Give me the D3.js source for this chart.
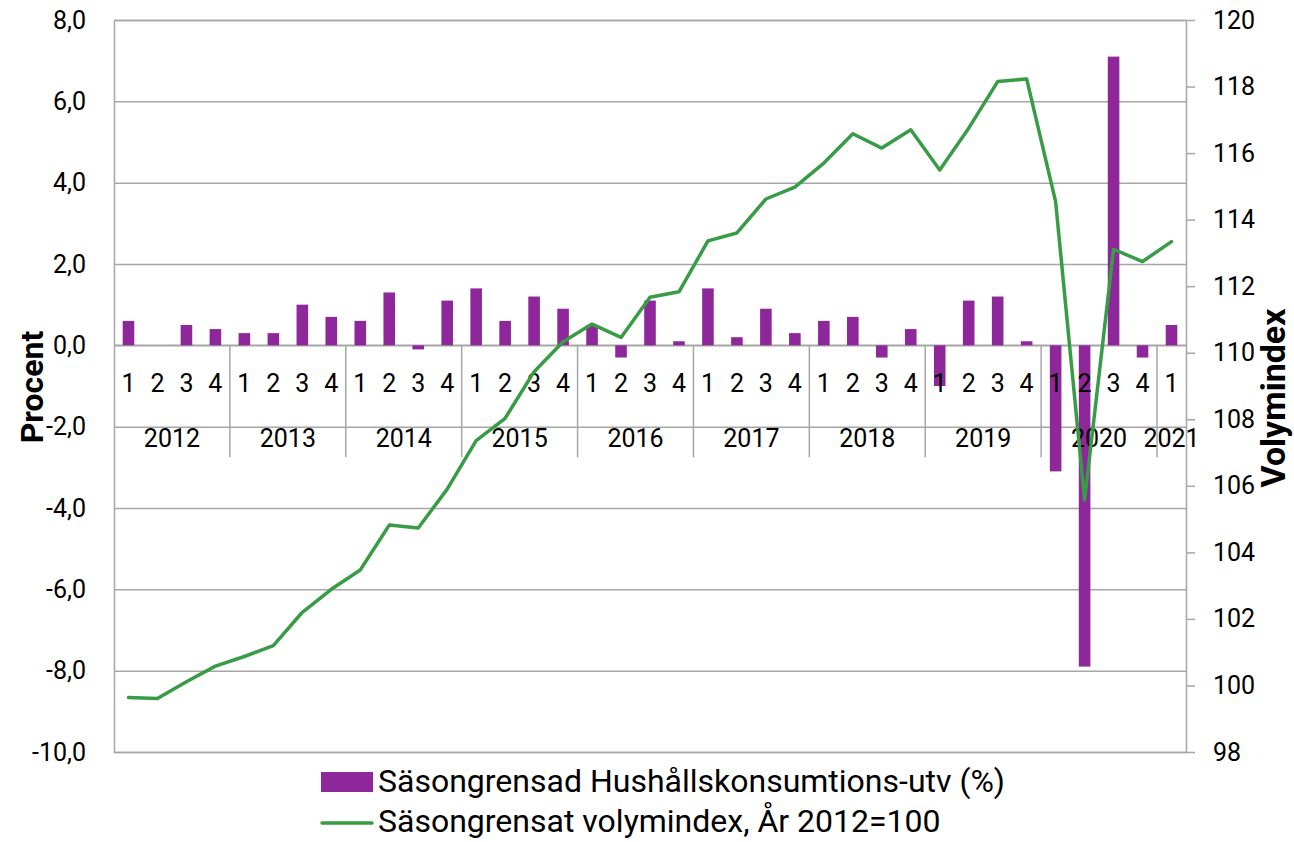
<!DOCTYPE html>
<html>
<head>
<meta charset="utf-8">
<script src="https://cdn.jsdelivr.net/npm/d3@7"></script>
<style>
  body { margin: 0; background: #fff; font-family: Roboto, "Noto Sans", sans-serif; }
  .tick text { font-size: 25px; fill: #000; font-family: Roboto, sans-serif; }
  .cat { font-size: 25px; fill: #000; }
  .axis-title { font-weight: bold; fill: #000; }
  .legend text { font-size: 32px; fill: #000; }
</style>
</head>
<body>
<div id="chart"></div>
<script>
// 1: DATA
const categories = [
  "2012:1", "2012:2", "2012:3", "2012:4",
  "2013:1", "2013:2", "2013:3", "2013:4",
  "2014:1", "2014:2", "2014:3", "2014:4",
  "2015:1", "2015:2", "2015:3", "2015:4",
  "2016:1", "2016:2", "2016:3", "2016:4",
  "2017:1", "2017:2", "2017:3", "2017:4",
  "2018:1", "2018:2", "2018:3", "2018:4",
  "2019:1", "2019:2", "2019:3", "2019:4",
  "2020:1", "2020:2", "2020:3", "2020:4",
  "2021:1"
];

// Säsongrensad hushållskonsumtions-utveckling (%)
const growth = [
  0.6, 0.0, 0.5, 0.4,
  0.3, 0.3, 1.0, 0.7,
  0.6, 1.3, -0.1, 1.1,
  1.4, 0.6, 1.2, 0.9,
  0.5, -0.3, 1.1, 0.1,
  1.4, 0.2, 0.9, 0.3,
  0.6, 0.7, -0.3, 0.4,
  -1.0, 1.1, 1.2, 0.1,
  -3.1, -7.9, 7.1, -0.3,
  0.5
];

// Säsongrensat volymindex, År 2012=100
const volumeIndex = [
  99.64, 99.61, 100.11, 100.58,
  100.87, 101.2, 102.2, 102.89,
  103.47, 104.82, 104.73, 105.9,
  107.36, 108.03, 109.43, 110.33,
  110.86, 110.46, 111.67, 111.83,
  113.36, 113.6, 114.62, 114.98,
  115.7, 116.58, 116.15, 116.7,
  115.49, 116.75, 118.15, 118.23,
  114.54, 105.57, 113.11, 112.74,
  113.34
];

const leftTicks = [-10, -8, -6, -4, -2, 0, 2, 4, 6, 8];
const rightTicks = [98, 100, 102, 104, 106, 108, 110, 112, 114, 116, 118, 120];
const legendLabels = [
  "Säsongrensad Hushållskonsumtions-utv (%)",
  "Säsongrensat volymindex, År 2012=100"
];

const barColor = "#8e289a";
const lineColor = "#389c46";
const gridColor = "#a6a6a6";

// 2: LAYOUT
const margin = { top: 20, right: 108, bottom: 90, left: 114 };
const width = 1072;
const height = 732;

const svg = d3.select("#chart")
  .append("svg")
  .attr("width", width + margin.left + margin.right)
  .attr("height", height + margin.top + margin.bottom);

const g = svg.append("g")
  .attr("transform", `translate(${margin.left},${margin.top})`);

// 3: SCALES
const x = d3.scaleBand()
  .domain(categories)
  .range([0, width])
  .paddingInner(0.6)
  .paddingOuter(0.3);

const yLeft = d3.scaleLinear().domain([-10, 8]).range([height, 0]);
const yRight = d3.scaleLinear().domain([98, 120]).range([height, 0]);

// 4: GRIDLINES + LEFT AXIS
const leftAxis = g.append("g")
  .call(d3.axisLeft(yLeft)
    .tickValues(leftTicks)
    .tickSize(-width)
    .tickPadding(28)
    .tickFormat(d => d3.format(".1f")(d).replace(".", ",").replace("−", "-")));
leftAxis.select(".domain").attr("stroke", gridColor).attr("stroke-width", 1.5);
leftAxis.selectAll(".tick line").attr("stroke", gridColor).attr("stroke-width", 1.5);

// zero line (category axis)
g.append("line")
  .attr("x1", 0).attr("x2", width)
  .attr("y1", yLeft(0)).attr("y2", yLeft(0))
  .attr("stroke", gridColor).attr("stroke-width", 1.5);

// 5: BARS
g.selectAll(".bar")
  .data(categories)
  .enter()
  .append("rect")
  .attr("class", "bar")
  .attr("x", d => x(d))
  .attr("width", x.bandwidth())
  .attr("y", (d, i) => yLeft(Math.max(0, growth[i])))
  .attr("height", (d, i) => Math.abs(yLeft(growth[i]) - yLeft(0)))
  .attr("fill", barColor);

// 6: CATEGORY LABELS (quarters + years)
const catG = g.append("g");
catG.selectAll(".q")
  .data(categories)
  .enter()
  .append("text")
  .attr("class", "cat")
  .attr("x", d => x(d) + x.bandwidth() / 2)
  .attr("y", yLeft(0) + 38)
  .attr("text-anchor", "middle")
  .attr("dominant-baseline", "central")
  .text(d => d.split(":")[1]);

const years = Array.from(new Set(categories.map(d => d.split(":")[0])));
const yearSpans = years.map(yr => {
  const idx = categories.map((c, i) => c.startsWith(yr) ? i : -1).filter(i => i >= 0);
  return { year: yr, start: idx[0] * x.step(), end: (idx[idx.length - 1] + 1) * x.step() };
});

catG.selectAll(".yr")
  .data(yearSpans)
  .enter()
  .append("text")
  .attr("class", "cat")
  .attr("x", d => (d.start + d.end) / 2)
  .attr("y", yLeft(0) + 93)
  .attr("text-anchor", "middle")
  .attr("dominant-baseline", "central")
  .text(d => d.year);

catG.selectAll(".sep")
  .data(yearSpans.slice(1))
  .enter()
  .append("line")
  .attr("x1", d => d.start).attr("x2", d => d.start)
  .attr("y1", yLeft(0)).attr("y2", yLeft(0) + 112)
  .attr("stroke", gridColor).attr("stroke-width", 1.5);

// 7: LINE (right axis)
const line = d3.line()
  .x((d, i) => x(categories[i]) + x.bandwidth() / 2)
  .y(d => yRight(d));

g.append("path")
  .datum(volumeIndex)
  .attr("d", line)
  .attr("fill", "none")
  .attr("stroke", lineColor)
  .attr("stroke-width", 3.5)
  .attr("stroke-linejoin", "round")
  .attr("stroke-linecap", "round");

// 8: RIGHT AXIS
const rightAxis = g.append("g")
  .attr("transform", `translate(${width},0)`)
  .call(d3.axisRight(yRight)
    .tickValues(rightTicks)
    .tickSize(9)
    .tickPadding(18)
    .tickSizeOuter(0));
rightAxis.select(".domain").attr("stroke", gridColor).attr("stroke-width", 1.5);
rightAxis.selectAll(".tick line").attr("stroke", gridColor).attr("stroke-width", 1.5);

// 9: AXIS TITLES
svg.append("text")
  .attr("class", "axis-title")
  .attr("font-size", 32)
  .attr("transform", "translate(32,387) rotate(-90)")
  .attr("text-anchor", "middle")
  .attr("dominant-baseline", "central")
  .text("Procent");

svg.append("text")
  .attr("class", "axis-title")
  .attr("font-size", 34)
  .attr("transform", "translate(1273,398) rotate(-90)")
  .attr("text-anchor", "middle")
  .attr("dominant-baseline", "central")
  .text("Volymindex");

// 10: LEGEND
const legend = svg.append("g").attr("class", "legend");
legend.append("rect")
  .attr("x", 321).attr("y", 772)
  .attr("width", 52).attr("height", 20)
  .attr("fill", barColor);
legend.append("text")
  .attr("x", 378).attr("y", 792)
  .text(legendLabels[0]);
legend.append("line")
  .attr("x1", 322).attr("x2", 372)
  .attr("y1", 823).attr("y2", 823)
  .attr("stroke", lineColor)
  .attr("stroke-width", 3.5)
  .attr("stroke-linecap", "round");
legend.append("text")
  .attr("x", 378).attr("y", 832)
  .text(legendLabels[1]);
</script>
</body>
</html>
